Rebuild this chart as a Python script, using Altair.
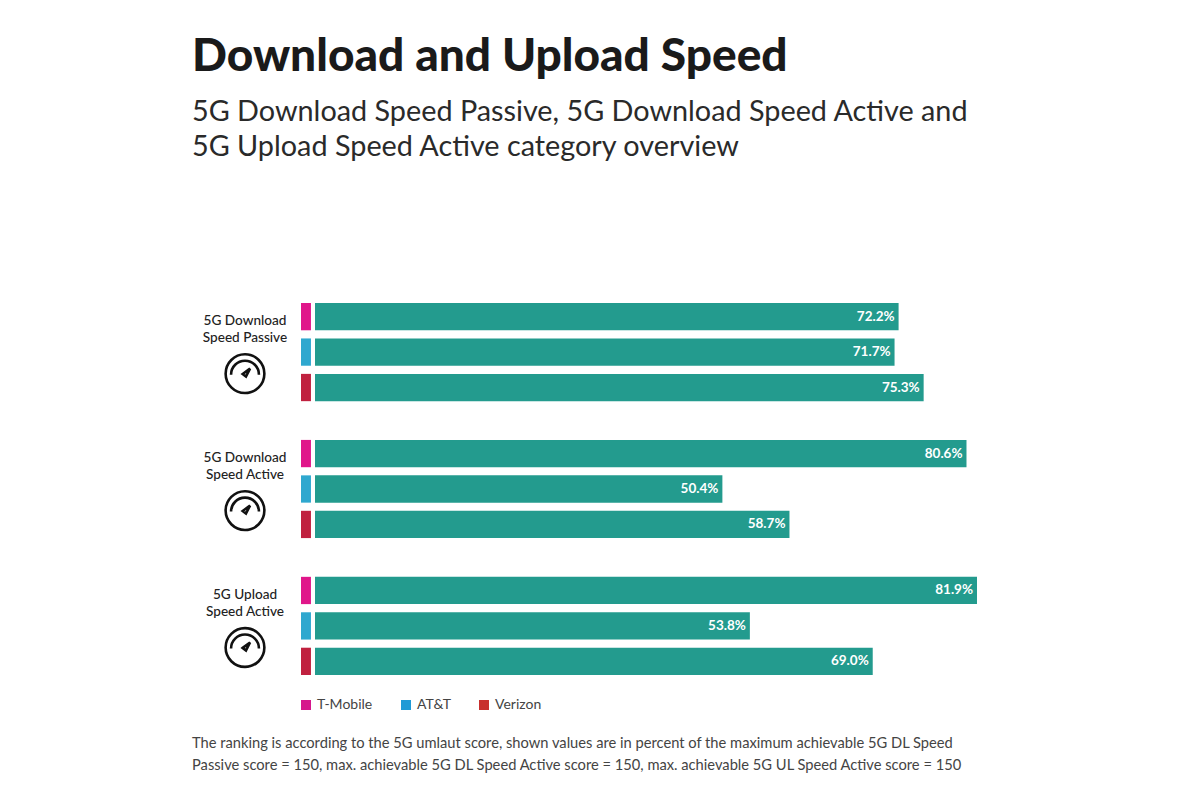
import altair as alt
import pandas as pd

title = "Download and Upload Speed"
subtitle = ["5G Download Speed Passive, 5G Download Speed Active and",
            "5G Upload Speed Active category overview"]
footnote = ("The ranking is according to the 5G umlaut score, shown values are in percent of the maximum achievable 5G DL Speed\n"
            "Passive score = 150, max. achievable 5G DL Speed Active score = 150, max. achievable 5G UL Speed Active score = 150")
groups = ["5G Download Speed Passive", "5G Download Speed Active", "5G Upload Speed Active"]
group_labels = ["5G Download\nSpeed Passive", "5G Download\nSpeed Active", "5G Upload\nSpeed Active"]
operators = ["T-Mobile", "AT&T", "Verizon"]
values = [[72.2, 71.7, 75.3], [80.6, 50.4, 58.7], [81.9, 53.8, 69.0]]
swatch_colors = ["#e0168a", "#2fa8cf", "#c0213f"]
legend_colors = ["#d6178c", "#1f9ad6", "#c8302e"]
bar_color = "#239b8e"
gauge = ("M-1,0A1,1,0,1,1,1,0A1,1,0,1,1,-1,0Z"
         "M-0.72,0.05A0.72,0.72,0,1,1,0.72,0.05"
         "M-0.12,0.02L0.26,-0.26L0.05,0.15Z")

rows = pd.DataFrame([
    {"group": g, "operator": o, "value": values[i][j], "label": f"{values[i][j]:.1f}%"}
    for i, g in enumerate(groups) for j, o in enumerate(operators)
])
rows["s0"] = -1.73
rows["s1"] = -0.5
group_df = pd.DataFrame({"group": groups, "label": group_labels})
legend_df = pd.DataFrame({"operator": operators})
foot_df = pd.DataFrame({"t": [footnote]})

xs = alt.Scale(domain=[0, 100], range=[307, 1115.3])
ys = alt.Scale(domain=groups, range=[295, 667], paddingInner=0.283, paddingOuter=0)
yo = alt.Scale(domain=operators, paddingInner=0.23, paddingOuter=0)
X = alt.X("value:Q", scale=xs, axis=None)
Y = alt.Y("group:N", scale=ys, axis=None)
YO = alt.YOffset("operator:N", scale=yo)

bars = alt.Chart(rows).mark_bar(color=bar_color, cornerRadius=0).encode(
    x=X, x2=alt.datum(0), y=Y, yOffset=YO)
swatches = alt.Chart(rows).mark_bar().encode(
    x=alt.X("s0:Q", scale=xs, axis=None), x2="s1:Q", y=Y, yOffset=YO,
    color=alt.Color("operator:N", legend=None,
                    scale=alt.Scale(domain=operators, range=swatch_colors)))
labels = alt.Chart(rows).mark_text(align="right", baseline="middle", dx=-4, color="white",
                                   font="Lato", fontWeight="bold", fontSize=13.5).encode(
    x=X, y=Y, yOffset=YO, text="label:N")
group_text = alt.Chart(group_df).mark_text(
    align="center", baseline="middle", lineBreak="\n", lineHeight=17, font="Lato", fontSize=13.6,
    fontWeight=500, color="#222222").encode(
    x=alt.value(237), y=alt.Y("group:N", scale=ys, axis=None, bandPosition=0.18), text="label:N")
icons = alt.Chart(group_df).mark_point(
    shape=gauge, size=1500, filled=False, stroke="#111111", strokeWidth=2.6, opacity=1).encode(
    x=alt.value(237), y=alt.Y("group:N", scale=ys, axis=None, bandPosition=0.72))
legend_layer = alt.Chart(legend_df).mark_square(opacity=0, size=100).encode(
    x=alt.value(0), y=alt.value(0),
    color=alt.Color("operator:N", scale=alt.Scale(domain=operators, range=legend_colors),
                    legend=alt.Legend(orient="none", legendX=291, legendY=690, direction="horizontal",
                                      title=None, symbolType="square", symbolSize=100, symbolOpacity=1,
                                      labelFont="Lato", labelFontSize=14, labelColor="#444444",
                                      columnPadding=26, labelOffset=4)))
foot = alt.Chart(foot_df).mark_text(
    align="left", baseline="middle", lineBreak="\n", lineHeight=22, font="Lato", fontSize=14.7,
    color="#444444").encode(x=alt.value(184), y=alt.value(736), text="t:N")

chart = alt.layer(bars, swatches, labels, group_text, icons, legend_layer, foot).resolve_scale(
    color="independent"
).properties(
    width=1184, height=784, padding=0,
    autosize=alt.AutoSizeParams(type="none"),
    title=alt.TitleParams(
        title, subtitle=subtitle, anchor="start", frame="group", dx=184, dy=160, offset=0,
        font="Lato", fontSize=46, fontWeight=900, color="#1a1a1a",
        subtitleFont="Lato", subtitleFontSize=28.8, subtitleColor="#2a2a2a",
        subtitleLineHeight=35, subtitlePadding=17),
).configure_view(stroke=None)

chart.save("out.html", embed_options={"renderer": "svg", "actions": False})
